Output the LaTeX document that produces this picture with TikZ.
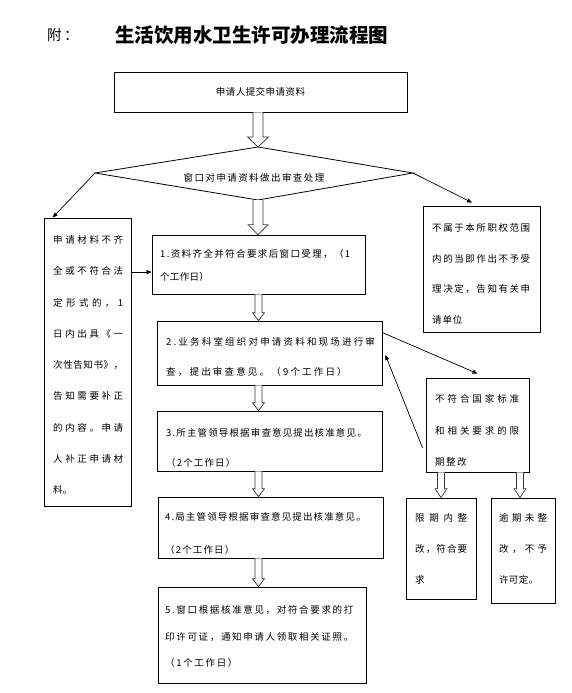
\documentclass[tikz,border=0pt]{standalone}
\usepackage{fontspec}
\setmainfont{Noto Sans CJK SC}
\usetikzlibrary{calc,arrows.meta}
\makeatletter
\def\sp@chars#1{\ifx\relax#1\else#1\expandafter\sp@next\fi}
\def\sp@next#1{\ifx\relax#1\else\hfil#1\expandafter\sp@next\fi}
\newcommand\jline[2]{\makebox[#1pt][s]{\sp@chars#2\relax}}
\makeatother
\newcommand\tf[2]{\fontsize{9.5}{#1}\selectfont\addfontfeatures{LetterSpace=#2}}
\newcommand\harrow[5]{\draw[hol] ($#1+(-#3,0)$) -- ($#2+(-#3,-#5)$) -- ($#2+(-#4,-#5)$) -- #2 -- ($#2+(#4,-#5)$) -- ($#2+(#3,-#5)$) -- ($#1+(#3,0)$);}
\tikzset{
  box/.style={draw=black, line width=0.8pt, inner sep=0pt, rectangle},
  txt/.style={inner sep=0pt, align=left, anchor=west, text=black},
  hol/.style={draw=black!80, line width=0.7pt, fill=white},
  arr/.style={-{Triangle[length=5pt,width=4pt]}, line width=0.7pt},
  shp/.style={draw=black, line width=0.8pt}
}
\begin{document}
\begin{tikzpicture}[x=1pt,y=-1pt]
\fill[white] (0,0) rectangle (572,693);
\useasboundingbox (0,0) rectangle (572,693);

% title
\node[anchor=west, inner sep=0pt, font=\fontsize{14.5}{16}\selectfont] (fu) at (47,35) {附\,：};
\node[anchor=west, inner sep=0pt, font=\fontsize{19.5}{21}\selectfont\bfseries] (title) at (115,35) {生活饮用水卫生许可办理流程图};

% boxes
\node[box, minimum width=293, minimum height=40, font={\tf{12}{5}}] (b0) at (260.5,92) {申请人提交申请资料};
\coordinate (dl) at (95,173);
\coordinate (dt) at (258,147);
\coordinate (dr) at (413,173);
\coordinate (db) at (258,200);
\draw[shp] (dl) -- (dt) -- (dr) -- (db) -- cycle;
\node[txt, anchor=center, font={\tf{12}{15}}] (diat) at (254,178) {窗口对申请资料做出审查处理};

\node[box, minimum width=213, minimum height=59] (s1) at (258.5,264.5) {};
\node[box, minimum width=87, minimum height=288] (L) at (87.5,362) {};
\node[box, minimum width=117, minimum height=126] (R) at (481.5,269) {};
\node[box, minimum width=225, minimum height=64] (s2) at (269.5,353) {};
\node[box, minimum width=225, minimum height=60] (s3) at (269.5,441) {};
\node[box, minimum width=225, minimum height=61] (s4) at (270.5,527.5) {};
\node[box, minimum width=208, minimum height=96] (s5) at (262,635) {};
\node[box, minimum width=103, minimum height=94] (N) at (477.5,425) {};
\node[box, minimum width=70, minimum height=101] (A) at (441,548.5) {};
\node[box, minimum width=64, minimum height=105] (B) at (523,550.5) {};

% texts
\node[txt, font={\tf{31.25}{0}}] (Lt) at (53,365) {\jline{70}{申请材料不齐}\\\jline{70}{全或不符合法}\\\jline{70}{定形式的，1}\\\jline{70}{日内出具《一}\\\jline{70}{次性告知书》，}\\\jline{70}{告知需要补正}\\\jline{70}{的内容。申请}\\\jline{70}{人补正申请材}\\料。};
\node[txt, font={\tf{30.7}{9}}] (Rt) at (432,274) {\jline{98}{不属于本所职权范围}\\\jline{98}{内的当即作出不予受}\\\jline{98}{理决定，告知有关申}\\请单位};
\node[txt, font={\tf{23}{3}}] (s1t) at (160,265.5) {\jline{190}{1.资料齐全并符合要求后窗口受理，（1}\\个工作日）};
\node[txt, font={\tf{30}{23}}] (s2t) at (166,357) {2.业务科室组织对申请资料和现场进行审\\查，提出审查意见。（9个工作日）};
\node[txt, font={\tf{30}{12}}] (s3t) at (166,448) {3.所主管领导根据审查意见提出核准意见。\\（2个工作日）};
\node[txt, font={\tf{33}{12}}] (s4t) at (165,533.5) {4.局主管领导根据审查意见提出核准意见。\\（2个工作日）};
\node[txt, font={\tf{26.5}{17.5}}] (s5t) at (165,636.5) {5.窗口根据核准意见，对符合要求的打\\印许可证，通知申请人领取相关证照。\\（1个工作日）};
\node[txt, font={\tf{31.5}{15}}] (Nt) at (435,430.5) {\jline{84}{不符合国家标准}\\\jline{84}{和相关要求的限}\\期整改};
\node[txt, font={\tf{31}{3}}] (At) at (415,549) {\jline{52}{限期内整}\\\jline{52}{改，符合要}\\求};
\node[txt, font={\tf{31}{3}}] (Bt) at (499,549) {\jline{48}{逾期未整}\\\jline{48}{改，不予}\\许可定。};

% hollow arrows
\harrow{(dt |- b0.south)}{(dt)}{5}{10.5}{10}
\harrow{(db)}{(db |- s1.north)}{5}{10}{10}
\harrow{(s1.south)}{(s1.south |- s2.north)}{3.5}{6}{8}
\harrow{(s1.south |- s2.south)}{(s1.south |- s3.north)}{3.5}{6}{8}
\harrow{(s1.south |- s3.south)}{(s1.south |- s4.north)}{3.5}{6}{8}
\harrow{(s1.south |- s4.south)}{(s1.south |- s5.north)}{3.5}{6}{8}
\harrow{(A.north |- N.south)}{(A.north)}{3.5}{6}{9}
\coordinate (bt) at ([xshift=-3pt]B.north);
\harrow{(bt |- N.south)}{(bt)}{3.5}{6}{9}

% thin arrows
\draw[arr] (dl) -- ([xshift=9pt]L.north west);
\coordinate (lk) at ([yshift=-7.5pt]s1.west);
\draw[arr] (L.east |- lk) -- (lk);
\draw[arr] (dr) -- ([xshift=-9.5pt,yshift=3pt]R.north);
\draw[arr] ([yshift=-12pt]s2.north east) -- ([yshift=4pt]N.north);
\draw[arr] ([xshift=-3pt,yshift=-23pt]N.west) -- ([xshift=3pt,yshift=-2pt]s2.east);
\end{tikzpicture}
\end{document}
